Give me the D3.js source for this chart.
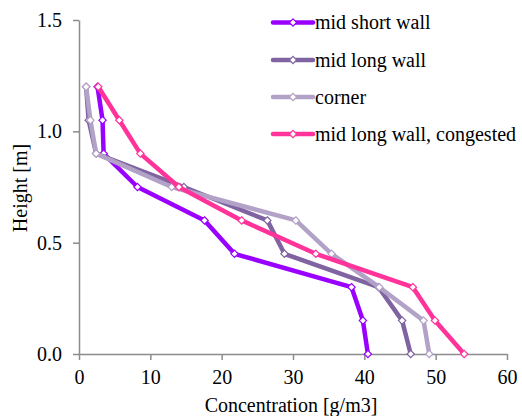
<!DOCTYPE html>
<html>
<head>
<meta charset="utf-8">
<script src="https://cdn.jsdelivr.net/npm/d3@7"></script>
<style>
  html, body { margin: 0; padding: 0; background: #fff; }
  svg { display: block; }
</style>
</head>
<body>
<svg id="chart" width="522" height="416" font-family="Liberation Serif"></svg>
<script>
// Measurement heights (m)
const heights = [1.2, 1.05, 0.9, 0.75, 0.6, 0.45, 0.3, 0.15, 0.0];

// Concentration (g/m3) at each height, per location
const midShortWall = [2.6, 3.3, 3.45, 8.2, 17.6, 21.8, 38.2, 39.8, 40.5];
const midLongWall = [1.0, 1.35, 2.4, 14.7, 26.4, 28.8, 42.0, 45.3, 46.5];
const corner = [1.0, 1.6, 2.4, 13.0, 30.4, 35.4, 42.1, 48.3, 49.1];
const midLongWallCongested = [2.7, 5.65, 8.6, 14.0, 22.8, 33.2, 46.8, 49.9, 54.0];

const seriesNames = ["mid short wall", "mid long wall", "corner", "mid long wall, congested"];
const seriesColors = ["#9900FF", "#8064A2", "#B3A2C7", "#FF3399"];
const seriesValues = [midShortWall, midLongWall, corner, midLongWallCongested];

const xTicks = [0, 10, 20, 30, 40, 50, 60];
const yTicks = [0.0, 0.5, 1.0, 1.5];

const FONT = "Liberation Serif";
const FONT_SIZE = 20;

// Apply the text face both as attribute and inline style
function serif(sel) {
  return sel.attr("font-family", FONT).style("font-family", `'${FONT}'`)
    .attr("font-size", FONT_SIZE).style("font-size", FONT_SIZE + "px");
}

const svg = d3.select("#chart");
const plot = { left: 79, right: 507, top: 20, bottom: 354 };

const x = d3.scaleLinear().domain([0, 60]).range([plot.left, plot.right]);
const y = d3.scaleLinear().domain([0, 1.5]).range([plot.bottom, plot.top]);

// Axes
const xAxis = svg.append("g")
  .attr("transform", `translate(0,${plot.bottom})`)
  .call(d3.axisBottom(x).tickValues(xTicks).tickFormat(d3.format("d")).tickSize(6).tickSizeOuter(0).tickPadding(10));
const yAxis = svg.append("g")
  .attr("transform", `translate(${plot.left},0)`)
  .call(d3.axisLeft(y).tickValues(yTicks).tickFormat(d3.format(".1f")).tickSize(6).tickSizeOuter(0).tickPadding(11));

[xAxis, yAxis].forEach(g => {
  serif(g);
  g.select(".domain").attr("stroke", "#8c8c8c").attr("stroke-width", 1.5);
  g.selectAll(".tick line").attr("stroke", "#8c8c8c").attr("stroke-width", 1.5);
  serif(g.selectAll(".tick text")).attr("fill", "#000");
});

// Axis titles
serif(svg.append("text"))
  .attr("x", (plot.left + plot.right) / 2 - 2)
  .attr("y", 412)
  .attr("text-anchor", "middle")
  .text("Concentration [g/m3]");

serif(svg.append("text"))
  .attr("transform", `translate(27,188) rotate(-90)`)
  .attr("text-anchor", "middle")
  .text("Height [m]");

// Series lines and markers
const line = d3.line().x(d => x(d.c)).y(d => y(d.h));
const diamond = d3.symbol().type(d3.symbolDiamond2).size(34);

seriesValues.forEach((vals, i) => {
  const pts = vals.map((c, j) => ({ c, h: heights[j] }));
  const g = svg.append("g");
  g.append("path")
    .datum(pts)
    .attr("d", line)
    .attr("fill", "none")
    .attr("stroke", seriesColors[i])
    .attr("stroke-width", 4.5)
    .attr("stroke-linejoin", "round");
  g.selectAll("path.pt")
    .data(pts)
    .join("path")
    .attr("class", "pt")
    .attr("transform", d => `translate(${x(d.c)},${y(d.h)})`)
    .attr("d", diamond)
    .attr("fill", "#fff")
    .attr("stroke", seriesColors[i])
    .attr("stroke-width", 1.2);
});

// Legend: sample line with marker, then label
const legendRowY = [22.5, 60, 97, 134];
const legendX = 273;
seriesNames.forEach((name, i) => {
  const ly = legendRowY[i];
  svg.append("line")
    .attr("x1", legendX).attr("x2", legendX + 40).attr("y1", ly).attr("y2", ly)
    .attr("stroke", seriesColors[i]).attr("stroke-width", 4.5)
    .attr("stroke-linecap", "round");
  svg.append("path")
    .attr("transform", `translate(${legendX + 20},${ly})`)
    .attr("d", diamond)
    .attr("fill", "#fff")
    .attr("stroke", seriesColors[i])
    .attr("stroke-width", 1.2);
  serif(svg.append("text"))
    .attr("x", legendX + 42).attr("y", ly + 6.5)
    .text(name);
});
</script>
</body>
</html>
